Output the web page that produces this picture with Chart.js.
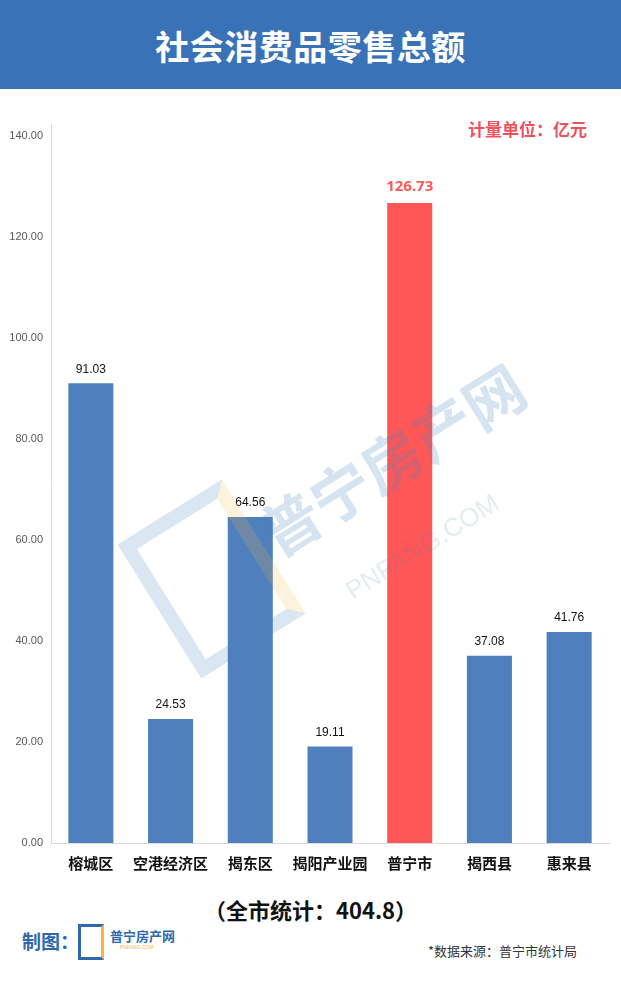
<!DOCTYPE html>
<html>
<head>
<meta charset="utf-8">
<script src="https://cdn.jsdelivr.net/npm/chart.js@4/dist/chart.umd.min.js"></script>
<style>
  body { margin: 0; width: 621px; height: 983px; background: #fff; position: relative; overflow: hidden;
         font-family: "Noto Sans CJK SC", "Noto Sans", sans-serif; }
  #header { position: absolute; left: 0; top: 0; width: 621px; height: 89px; background: #3a72b8;
            color: #fff; font-weight: bold; font-size: 34px; text-align: center; line-height: 92px; letter-spacing: 0.5px; }
  #wrap { position: absolute; left: 0; top: 100px; width: 621px; height: 780px; }
  #unit { position: absolute; left: 468px; top: 116px; color: #f0505a; font-weight: bold; font-size: 17px; }
  #total { position: absolute; left: 0; width: 621px; top: 893px; text-align: center; font-weight: bold; font-size: 22px; color: #111; }
  #maker { position: absolute; left: 22px; top: 927px; color: #2f68ac; font-weight: bold; font-size: 19px; }
  #logo { position: absolute; left: 78px; top: 924px; width: 20px; height: 30px; border: 3px solid #2f68ac; border-right-color: #f4b63b; }
  #logotxt { position: absolute; left: 110px; top: 926px; color: #2f68ac; font-weight: bold; font-size: 13px; }
  #logosub { position: absolute; left: 120px; top: 944px; color: #f4b63b; font-size: 5px; font-family: "Liberation Sans"; }
  #source { position: absolute; left: 428px; top: 941px; color: #333; font-size: 13px; }
  #wmbox { position: absolute; left: 150px; top: 500px; width: 95px; height: 130px; transform: rotate(-32deg);
           border: 14px solid rgba(70,130,190,0.2); border-right-color: rgba(244,182,59,0.18); pointer-events: none; }
  #wm { position: absolute; left: 240px; top: 500px; transform: rotate(-32deg); transform-origin: left top;
        color: rgba(70,130,190,0.22); font-weight: bold; font-size: 60px; pointer-events: none; white-space: nowrap; }
  #wm2 { position: absolute; left: 340px; top: 580px; transform: rotate(-32deg); transform-origin: left top;
        color: rgba(70,130,190,0.15); font-size: 26px; font-family: "Liberation Sans"; pointer-events: none; }
</style>
</head>
<body>
<div id="header">社会消费品零售总额</div>
<div id="wrap"><canvas id="chart" width="621" height="780"></canvas></div>
<div id="unit">计量单位：亿元</div>
<div id="wmbox"></div>
<div id="wm">普宁房产网</div>
<div id="wm2">PNFANG.COM</div>
<div id="total">（全市统计：404.8）</div>
<div id="maker">制图：</div>
<div id="logo"></div>
<div id="logotxt">普宁房产网</div>
<div id="logosub">PNFANG.COM</div>
<div id="source">*数据来源：普宁市统计局</div>
<script>
const categories = ['榕城区', '空港经济区', '揭东区', '揭阳产业园', '普宁市', '揭西县', '惠来县'];
const values = [91.03, 24.53, 64.56, 19.11, 126.73, 37.08, 41.76];
const highlightIndex = 4;

const blue = '#4f7fbd';
const red = '#ff5757';

const barLabels = {
    id: 'barLabels',
    afterDatasetsDraw(chart) {
        const ctx = chart.ctx;
        const meta = chart.getDatasetMeta(0);
        ctx.save();
        ctx.textAlign = 'center';
        ctx.textBaseline = 'middle';
        meta.data.forEach((bar, i) => {
            if (i === highlightIndex) {
                ctx.fillStyle = red;
                ctx.font = 'bold 15px "Noto Sans", sans-serif';
                ctx.fillText(values[i].toFixed(2), bar.x, bar.y - 16);
            } else {
                ctx.fillStyle = '#111';
                ctx.font = '12px "Liberation Sans", sans-serif';
                ctx.fillText(values[i].toFixed(2), bar.x, bar.y - 14);
            }
        });
        ctx.restore();
    }
};

// y axis line goes a bit above the top tick like in the original
const axisLine = {
    id: 'axisLine',
    beforeDatasetsDraw(chart) {
        const ctx = chart.ctx;
        const a = chart.chartArea;
        ctx.save();
        ctx.strokeStyle = '#d9d9d9';
        ctx.lineWidth = 1;
        ctx.beginPath();
        ctx.moveTo(a.left + 0.5, a.top - 12);
        ctx.lineTo(a.left + 0.5, a.bottom);
        ctx.stroke();
        ctx.restore();
    }
};

new Chart(document.getElementById('chart').getContext('2d'), {
    type: 'bar',
    data: {
        labels: categories,
        datasets: [{
            data: values,
            backgroundColor: values.map((v, i) => i === highlightIndex ? red : blue),
            categoryPercentage: 1,
            barPercentage: 0.565
        }]
    },
    options: {
        responsive: false,
        animation: false,
        layout: { padding: { top: 36, right: 12, left: 0, bottom: 0 } },
        plugins: { legend: { display: false }, tooltip: { enabled: false } },
        scales: {
            x: {
                grid: { display: false, drawTicks: false },
                border: { display: true, color: '#d9d9d9', width: 1 },
                ticks: {
                    color: '#111',
                    padding: 11,
                    font: { family: '"Noto Sans CJK SC"', size: 15, weight: 'bold' },
                    maxRotation: 0,
                    autoSkip: false
                },
                afterFit(scale) { scale.height = 37; }
            },
            y: {
                min: 0,
                max: 140,
                grid: { display: false, drawTicks: false },
                border: { display: false },
                ticks: {
                    stepSize: 20,
                    color: '#595959',
                    padding: 8,
                    font: { family: '"Liberation Sans"', size: 11 },
                    callback: v => v.toFixed(2)
                },
                afterFit(scale) { scale.width = 51; }
            }
        }
    },
    plugins: [axisLine, barLabels]
});
</script>
</body>
</html>
